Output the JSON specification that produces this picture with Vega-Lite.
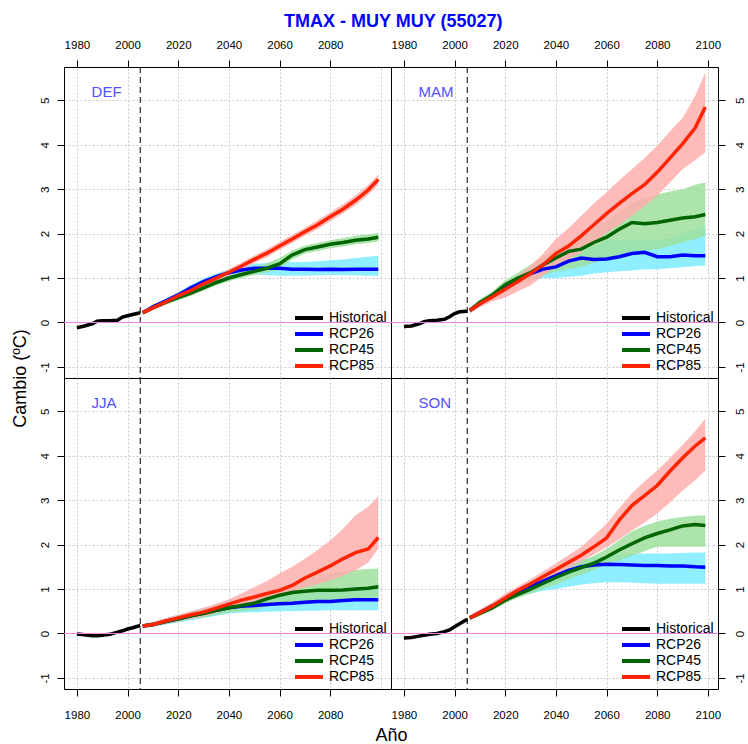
{
  "$schema": "https://vega.github.io/schema/vega-lite/v6.json",
  "padding": {"left": 10, "top": 12, "right": 2, "bottom": 2},
  "background": "white",
  "title": {"text": "TMAX  - MUY MUY (55027)", "color": "#0000FF", "fontSize": 18, "fontWeight": "bold", "font": "Liberation Sans", "anchor": "middle", "frame": "bounds", "dx": 15, "offset": 8},
  "datasets": {"d": [
    {"p":"DEF","s":"Historical","yr":1980,"v":-0.12},{"p":"DEF","s":"Historical","yr":1983,"v":-0.08},{"p":"DEF","s":"Historical","yr":1986,"v":-0.03},{"p":"DEF","s":"Historical","yr":1988,"v":0.03},{"p":"DEF","s":"Historical","yr":1990,"v":0.04},{"p":"DEF","s":"Historical","yr":1993,"v":0.04},{"p":"DEF","s":"Historical","yr":1996,"v":0.05},{"p":"DEF","s":"Historical","yr":1998,"v":0.12},{"p":"DEF","s":"Historical","yr":2000,"v":0.15},{"p":"DEF","s":"Historical","yr":2002,"v":0.18},{"p":"DEF","s":"Historical","yr":2005,"v":0.22},
    {"p":"DEF","s":"RCP26","yr":2006,"v":0.22,"lo":0.18,"hi":0.26},{"p":"DEF","s":"RCP26","yr":2010,"v":0.35,"lo":0.3,"hi":0.4},{"p":"DEF","s":"RCP26","yr":2015,"v":0.48,"lo":0.42,"hi":0.54},{"p":"DEF","s":"RCP26","yr":2020,"v":0.62,"lo":0.55,"hi":0.68},{"p":"DEF","s":"RCP26","yr":2025,"v":0.78,"lo":0.7,"hi":0.85},{"p":"DEF","s":"RCP26","yr":2030,"v":0.92,"lo":0.84,"hi":0.99},{"p":"DEF","s":"RCP26","yr":2035,"v":1.03,"lo":0.95,"hi":1.1},{"p":"DEF","s":"RCP26","yr":2040,"v":1.12,"lo":1.03,"hi":1.2},{"p":"DEF","s":"RCP26","yr":2045,"v":1.18,"lo":1.07,"hi":1.27},{"p":"DEF","s":"RCP26","yr":2050,"v":1.22,"lo":1.08,"hi":1.32},{"p":"DEF","s":"RCP26","yr":2055,"v":1.22,"lo":1.07,"hi":1.34},{"p":"DEF","s":"RCP26","yr":2060,"v":1.22,"lo":1.05,"hi":1.35},{"p":"DEF","s":"RCP26","yr":2065,"v":1.2,"lo":1.05,"hi":1.36},{"p":"DEF","s":"RCP26","yr":2070,"v":1.2,"lo":1.05,"hi":1.36},{"p":"DEF","s":"RCP26","yr":2075,"v":1.19,"lo":1.06,"hi":1.38},{"p":"DEF","s":"RCP26","yr":2080,"v":1.2,"lo":1.07,"hi":1.4},{"p":"DEF","s":"RCP26","yr":2085,"v":1.19,"lo":1.06,"hi":1.42},{"p":"DEF","s":"RCP26","yr":2090,"v":1.2,"lo":1.06,"hi":1.45},{"p":"DEF","s":"RCP26","yr":2095,"v":1.2,"lo":1.05,"hi":1.48},{"p":"DEF","s":"RCP26","yr":2099,"v":1.2,"lo":1.05,"hi":1.5},
    {"p":"DEF","s":"RCP45","yr":2006,"v":0.22,"lo":0.18,"hi":0.26},{"p":"DEF","s":"RCP45","yr":2010,"v":0.33,"lo":0.28,"hi":0.38},{"p":"DEF","s":"RCP45","yr":2015,"v":0.45,"lo":0.4,"hi":0.5},{"p":"DEF","s":"RCP45","yr":2020,"v":0.56,"lo":0.5,"hi":0.62},{"p":"DEF","s":"RCP45","yr":2025,"v":0.66,"lo":0.6,"hi":0.72},{"p":"DEF","s":"RCP45","yr":2030,"v":0.78,"lo":0.72,"hi":0.84},{"p":"DEF","s":"RCP45","yr":2035,"v":0.9,"lo":0.83,"hi":0.96},{"p":"DEF","s":"RCP45","yr":2040,"v":1.0,"lo":0.93,"hi":1.07},{"p":"DEF","s":"RCP45","yr":2045,"v":1.08,"lo":1.0,"hi":1.16},{"p":"DEF","s":"RCP45","yr":2050,"v":1.15,"lo":1.07,"hi":1.24},{"p":"DEF","s":"RCP45","yr":2055,"v":1.22,"lo":1.13,"hi":1.33},{"p":"DEF","s":"RCP45","yr":2060,"v":1.32,"lo":1.22,"hi":1.45},{"p":"DEF","s":"RCP45","yr":2065,"v":1.52,"lo":1.42,"hi":1.62},{"p":"DEF","s":"RCP45","yr":2070,"v":1.64,"lo":1.55,"hi":1.73},{"p":"DEF","s":"RCP45","yr":2075,"v":1.7,"lo":1.61,"hi":1.79},{"p":"DEF","s":"RCP45","yr":2080,"v":1.76,"lo":1.67,"hi":1.85},{"p":"DEF","s":"RCP45","yr":2085,"v":1.8,"lo":1.71,"hi":1.9},{"p":"DEF","s":"RCP45","yr":2090,"v":1.85,"lo":1.76,"hi":1.95},{"p":"DEF","s":"RCP45","yr":2095,"v":1.88,"lo":1.79,"hi":1.98},{"p":"DEF","s":"RCP45","yr":2099,"v":1.92,"lo":1.82,"hi":2.02},
    {"p":"DEF","s":"RCP85","yr":2006,"v":0.22,"lo":0.17,"hi":0.27},{"p":"DEF","s":"RCP85","yr":2010,"v":0.33,"lo":0.28,"hi":0.39},{"p":"DEF","s":"RCP85","yr":2015,"v":0.46,"lo":0.4,"hi":0.52},{"p":"DEF","s":"RCP85","yr":2020,"v":0.6,"lo":0.54,"hi":0.66},{"p":"DEF","s":"RCP85","yr":2025,"v":0.72,"lo":0.65,"hi":0.79},{"p":"DEF","s":"RCP85","yr":2030,"v":0.87,"lo":0.8,"hi":0.94},{"p":"DEF","s":"RCP85","yr":2035,"v":1.0,"lo":0.93,"hi":1.07},{"p":"DEF","s":"RCP85","yr":2040,"v":1.13,"lo":1.05,"hi":1.2},{"p":"DEF","s":"RCP85","yr":2045,"v":1.27,"lo":1.19,"hi":1.35},{"p":"DEF","s":"RCP85","yr":2050,"v":1.42,"lo":1.33,"hi":1.5},{"p":"DEF","s":"RCP85","yr":2055,"v":1.56,"lo":1.47,"hi":1.65},{"p":"DEF","s":"RCP85","yr":2060,"v":1.72,"lo":1.63,"hi":1.81},{"p":"DEF","s":"RCP85","yr":2065,"v":1.88,"lo":1.79,"hi":1.97},{"p":"DEF","s":"RCP85","yr":2070,"v":2.04,"lo":1.95,"hi":2.13},{"p":"DEF","s":"RCP85","yr":2075,"v":2.2,"lo":2.1,"hi":2.3},{"p":"DEF","s":"RCP85","yr":2080,"v":2.38,"lo":2.28,"hi":2.48},{"p":"DEF","s":"RCP85","yr":2085,"v":2.55,"lo":2.45,"hi":2.66},{"p":"DEF","s":"RCP85","yr":2090,"v":2.75,"lo":2.64,"hi":2.86},{"p":"DEF","s":"RCP85","yr":2095,"v":2.98,"lo":2.87,"hi":3.1},{"p":"DEF","s":"RCP85","yr":2099,"v":3.22,"lo":3.1,"hi":3.33},
    {"p":"MAM","s":"Historical","yr":1980,"v":-0.09},{"p":"MAM","s":"Historical","yr":1983,"v":-0.08},{"p":"MAM","s":"Historical","yr":1986,"v":-0.03},{"p":"MAM","s":"Historical","yr":1988,"v":0.02},{"p":"MAM","s":"Historical","yr":1990,"v":0.04},{"p":"MAM","s":"Historical","yr":1993,"v":0.05},{"p":"MAM","s":"Historical","yr":1996,"v":0.07},{"p":"MAM","s":"Historical","yr":1998,"v":0.13},{"p":"MAM","s":"Historical","yr":2000,"v":0.2},{"p":"MAM","s":"Historical","yr":2002,"v":0.24},{"p":"MAM","s":"Historical","yr":2005,"v":0.25},
    {"p":"MAM","s":"RCP26","yr":2006,"v":0.27,"lo":0.22,"hi":0.32},{"p":"MAM","s":"RCP26","yr":2010,"v":0.42,"lo":0.36,"hi":0.48},{"p":"MAM","s":"RCP26","yr":2015,"v":0.6,"lo":0.52,"hi":0.67},{"p":"MAM","s":"RCP26","yr":2020,"v":0.8,"lo":0.7,"hi":0.88},{"p":"MAM","s":"RCP26","yr":2025,"v":0.98,"lo":0.86,"hi":1.06},{"p":"MAM","s":"RCP26","yr":2030,"v":1.1,"lo":0.95,"hi":1.25},{"p":"MAM","s":"RCP26","yr":2035,"v":1.2,"lo":1.0,"hi":1.35},{"p":"MAM","s":"RCP26","yr":2040,"v":1.25,"lo":1.0,"hi":1.45},{"p":"MAM","s":"RCP26","yr":2045,"v":1.38,"lo":1.03,"hi":1.52},{"p":"MAM","s":"RCP26","yr":2050,"v":1.45,"lo":1.05,"hi":1.6},{"p":"MAM","s":"RCP26","yr":2055,"v":1.42,"lo":1.1,"hi":1.72},{"p":"MAM","s":"RCP26","yr":2060,"v":1.43,"lo":1.13,"hi":1.84},{"p":"MAM","s":"RCP26","yr":2065,"v":1.48,"lo":1.15,"hi":1.85},{"p":"MAM","s":"RCP26","yr":2070,"v":1.55,"lo":1.17,"hi":1.85},{"p":"MAM","s":"RCP26","yr":2075,"v":1.58,"lo":1.2,"hi":1.85},{"p":"MAM","s":"RCP26","yr":2080,"v":1.48,"lo":1.2,"hi":1.85},{"p":"MAM","s":"RCP26","yr":2085,"v":1.48,"lo":1.22,"hi":1.9},{"p":"MAM","s":"RCP26","yr":2090,"v":1.52,"lo":1.24,"hi":2.0},{"p":"MAM","s":"RCP26","yr":2095,"v":1.5,"lo":1.27,"hi":2.1},{"p":"MAM","s":"RCP26","yr":2099,"v":1.5,"lo":1.28,"hi":2.18},
    {"p":"MAM","s":"RCP45","yr":2006,"v":0.27,"lo":0.22,"hi":0.32},{"p":"MAM","s":"RCP45","yr":2010,"v":0.45,"lo":0.38,"hi":0.52},{"p":"MAM","s":"RCP45","yr":2015,"v":0.62,"lo":0.54,"hi":0.7},{"p":"MAM","s":"RCP45","yr":2020,"v":0.85,"lo":0.75,"hi":0.95},{"p":"MAM","s":"RCP45","yr":2025,"v":1.0,"lo":0.88,"hi":1.12},{"p":"MAM","s":"RCP45","yr":2030,"v":1.12,"lo":0.95,"hi":1.3},{"p":"MAM","s":"RCP45","yr":2035,"v":1.3,"lo":1.05,"hi":1.48},{"p":"MAM","s":"RCP45","yr":2040,"v":1.45,"lo":1.15,"hi":1.65},{"p":"MAM","s":"RCP45","yr":2045,"v":1.6,"lo":1.2,"hi":1.8},{"p":"MAM","s":"RCP45","yr":2050,"v":1.65,"lo":1.25,"hi":1.95},{"p":"MAM","s":"RCP45","yr":2055,"v":1.8,"lo":1.35,"hi":2.12},{"p":"MAM","s":"RCP45","yr":2060,"v":1.92,"lo":1.45,"hi":2.3},{"p":"MAM","s":"RCP45","yr":2065,"v":2.1,"lo":1.52,"hi":2.5},{"p":"MAM","s":"RCP45","yr":2070,"v":2.25,"lo":1.6,"hi":2.7},{"p":"MAM","s":"RCP45","yr":2075,"v":2.22,"lo":1.62,"hi":2.8},{"p":"MAM","s":"RCP45","yr":2080,"v":2.25,"lo":1.65,"hi":2.88},{"p":"MAM","s":"RCP45","yr":2085,"v":2.3,"lo":1.72,"hi":2.95},{"p":"MAM","s":"RCP45","yr":2090,"v":2.35,"lo":1.8,"hi":3.0},{"p":"MAM","s":"RCP45","yr":2095,"v":2.38,"lo":1.88,"hi":3.1},{"p":"MAM","s":"RCP45","yr":2099,"v":2.43,"lo":1.96,"hi":3.15},
    {"p":"MAM","s":"RCP85","yr":2006,"v":0.27,"lo":0.2,"hi":0.32},{"p":"MAM","s":"RCP85","yr":2010,"v":0.42,"lo":0.34,"hi":0.48},{"p":"MAM","s":"RCP85","yr":2015,"v":0.58,"lo":0.48,"hi":0.65},{"p":"MAM","s":"RCP85","yr":2020,"v":0.75,"lo":0.56,"hi":0.85},{"p":"MAM","s":"RCP85","yr":2025,"v":0.92,"lo":0.7,"hi":1.05},{"p":"MAM","s":"RCP85","yr":2030,"v":1.1,"lo":0.83,"hi":1.28},{"p":"MAM","s":"RCP85","yr":2035,"v":1.3,"lo":1.05,"hi":1.55},{"p":"MAM","s":"RCP85","yr":2040,"v":1.55,"lo":1.28,"hi":1.88},{"p":"MAM","s":"RCP85","yr":2045,"v":1.72,"lo":1.42,"hi":2.12},{"p":"MAM","s":"RCP85","yr":2050,"v":1.95,"lo":1.58,"hi":2.4},{"p":"MAM","s":"RCP85","yr":2055,"v":2.2,"lo":1.8,"hi":2.68},{"p":"MAM","s":"RCP85","yr":2060,"v":2.45,"lo":2.02,"hi":2.93},{"p":"MAM","s":"RCP85","yr":2065,"v":2.68,"lo":2.2,"hi":3.2},{"p":"MAM","s":"RCP85","yr":2070,"v":2.9,"lo":2.4,"hi":3.45},{"p":"MAM","s":"RCP85","yr":2075,"v":3.1,"lo":2.62,"hi":3.7},{"p":"MAM","s":"RCP85","yr":2080,"v":3.38,"lo":2.85,"hi":3.98},{"p":"MAM","s":"RCP85","yr":2085,"v":3.7,"lo":3.15,"hi":4.3},{"p":"MAM","s":"RCP85","yr":2090,"v":4.02,"lo":3.45,"hi":4.6},{"p":"MAM","s":"RCP85","yr":2095,"v":4.38,"lo":3.65,"hi":5.1},{"p":"MAM","s":"RCP85","yr":2099,"v":4.85,"lo":3.83,"hi":5.63},
    {"p":"JJA","s":"Historical","yr":1980,"v":-0.01},{"p":"JJA","s":"Historical","yr":1983,"v":-0.03},{"p":"JJA","s":"Historical","yr":1986,"v":-0.05},{"p":"JJA","s":"Historical","yr":1988,"v":-0.05},{"p":"JJA","s":"Historical","yr":1990,"v":-0.04},{"p":"JJA","s":"Historical","yr":1993,"v":-0.02},{"p":"JJA","s":"Historical","yr":1996,"v":0.03},{"p":"JJA","s":"Historical","yr":1998,"v":0.06},{"p":"JJA","s":"Historical","yr":2000,"v":0.1},{"p":"JJA","s":"Historical","yr":2002,"v":0.13},{"p":"JJA","s":"Historical","yr":2005,"v":0.18},
    {"p":"JJA","s":"RCP26","yr":2006,"v":0.17,"lo":0.13,"hi":0.21},{"p":"JJA","s":"RCP26","yr":2010,"v":0.2,"lo":0.15,"hi":0.26},{"p":"JJA","s":"RCP26","yr":2015,"v":0.27,"lo":0.2,"hi":0.34},{"p":"JJA","s":"RCP26","yr":2020,"v":0.33,"lo":0.25,"hi":0.42},{"p":"JJA","s":"RCP26","yr":2025,"v":0.4,"lo":0.3,"hi":0.5},{"p":"JJA","s":"RCP26","yr":2030,"v":0.46,"lo":0.35,"hi":0.58},{"p":"JJA","s":"RCP26","yr":2035,"v":0.52,"lo":0.4,"hi":0.65},{"p":"JJA","s":"RCP26","yr":2040,"v":0.58,"lo":0.45,"hi":0.72},{"p":"JJA","s":"RCP26","yr":2045,"v":0.61,"lo":0.47,"hi":0.77},{"p":"JJA","s":"RCP26","yr":2050,"v":0.63,"lo":0.48,"hi":0.8},{"p":"JJA","s":"RCP26","yr":2055,"v":0.65,"lo":0.49,"hi":0.83},{"p":"JJA","s":"RCP26","yr":2060,"v":0.67,"lo":0.5,"hi":0.86},{"p":"JJA","s":"RCP26","yr":2065,"v":0.68,"lo":0.5,"hi":0.88},{"p":"JJA","s":"RCP26","yr":2070,"v":0.7,"lo":0.51,"hi":0.9},{"p":"JJA","s":"RCP26","yr":2075,"v":0.72,"lo":0.51,"hi":0.93},{"p":"JJA","s":"RCP26","yr":2080,"v":0.72,"lo":0.52,"hi":0.95},{"p":"JJA","s":"RCP26","yr":2085,"v":0.74,"lo":0.52,"hi":0.97},{"p":"JJA","s":"RCP26","yr":2090,"v":0.76,"lo":0.52,"hi":0.99},{"p":"JJA","s":"RCP26","yr":2095,"v":0.76,"lo":0.52,"hi":1.0},{"p":"JJA","s":"RCP26","yr":2099,"v":0.76,"lo":0.52,"hi":1.02},
    {"p":"JJA","s":"RCP45","yr":2006,"v":0.17,"lo":0.13,"hi":0.21},{"p":"JJA","s":"RCP45","yr":2010,"v":0.2,"lo":0.15,"hi":0.25},{"p":"JJA","s":"RCP45","yr":2015,"v":0.27,"lo":0.21,"hi":0.33},{"p":"JJA","s":"RCP45","yr":2020,"v":0.33,"lo":0.26,"hi":0.4},{"p":"JJA","s":"RCP45","yr":2025,"v":0.4,"lo":0.32,"hi":0.48},{"p":"JJA","s":"RCP45","yr":2030,"v":0.45,"lo":0.36,"hi":0.55},{"p":"JJA","s":"RCP45","yr":2035,"v":0.52,"lo":0.42,"hi":0.62},{"p":"JJA","s":"RCP45","yr":2040,"v":0.58,"lo":0.47,"hi":0.7},{"p":"JJA","s":"RCP45","yr":2045,"v":0.63,"lo":0.5,"hi":0.77},{"p":"JJA","s":"RCP45","yr":2050,"v":0.68,"lo":0.53,"hi":0.85},{"p":"JJA","s":"RCP45","yr":2055,"v":0.78,"lo":0.6,"hi":0.95},{"p":"JJA","s":"RCP45","yr":2060,"v":0.86,"lo":0.66,"hi":1.05},{"p":"JJA","s":"RCP45","yr":2065,"v":0.92,"lo":0.7,"hi":1.15},{"p":"JJA","s":"RCP45","yr":2070,"v":0.95,"lo":0.72,"hi":1.25},{"p":"JJA","s":"RCP45","yr":2075,"v":0.97,"lo":0.74,"hi":1.32},{"p":"JJA","s":"RCP45","yr":2080,"v":0.97,"lo":0.75,"hi":1.36},{"p":"JJA","s":"RCP45","yr":2085,"v":0.98,"lo":0.76,"hi":1.4},{"p":"JJA","s":"RCP45","yr":2090,"v":1.0,"lo":0.78,"hi":1.43},{"p":"JJA","s":"RCP45","yr":2095,"v":1.02,"lo":0.8,"hi":1.45},{"p":"JJA","s":"RCP45","yr":2099,"v":1.05,"lo":0.82,"hi":1.46},
    {"p":"JJA","s":"RCP85","yr":2006,"v":0.17,"lo":0.13,"hi":0.21},{"p":"JJA","s":"RCP85","yr":2010,"v":0.2,"lo":0.15,"hi":0.26},{"p":"JJA","s":"RCP85","yr":2015,"v":0.28,"lo":0.22,"hi":0.34},{"p":"JJA","s":"RCP85","yr":2020,"v":0.35,"lo":0.28,"hi":0.42},{"p":"JJA","s":"RCP85","yr":2025,"v":0.42,"lo":0.33,"hi":0.5},{"p":"JJA","s":"RCP85","yr":2030,"v":0.48,"lo":0.38,"hi":0.58},{"p":"JJA","s":"RCP85","yr":2035,"v":0.57,"lo":0.46,"hi":0.67},{"p":"JJA","s":"RCP85","yr":2040,"v":0.66,"lo":0.54,"hi":0.77},{"p":"JJA","s":"RCP85","yr":2045,"v":0.75,"lo":0.62,"hi":0.9},{"p":"JJA","s":"RCP85","yr":2050,"v":0.82,"lo":0.7,"hi":1.04},{"p":"JJA","s":"RCP85","yr":2055,"v":0.9,"lo":0.78,"hi":1.18},{"p":"JJA","s":"RCP85","yr":2060,"v":0.97,"lo":0.87,"hi":1.35},{"p":"JJA","s":"RCP85","yr":2065,"v":1.08,"lo":0.95,"hi":1.5},{"p":"JJA","s":"RCP85","yr":2070,"v":1.25,"lo":1.04,"hi":1.68},{"p":"JJA","s":"RCP85","yr":2075,"v":1.38,"lo":1.1,"hi":1.88},{"p":"JJA","s":"RCP85","yr":2080,"v":1.52,"lo":1.2,"hi":2.09},{"p":"JJA","s":"RCP85","yr":2085,"v":1.68,"lo":1.3,"hi":2.35},{"p":"JJA","s":"RCP85","yr":2090,"v":1.82,"lo":1.42,"hi":2.66},{"p":"JJA","s":"RCP85","yr":2095,"v":1.9,"lo":1.6,"hi":2.85},{"p":"JJA","s":"RCP85","yr":2099,"v":2.16,"lo":1.91,"hi":3.09},
    {"p":"SON","s":"Historical","yr":1980,"v":-0.1},{"p":"SON","s":"Historical","yr":1983,"v":-0.09},{"p":"SON","s":"Historical","yr":1986,"v":-0.06},{"p":"SON","s":"Historical","yr":1988,"v":-0.04},{"p":"SON","s":"Historical","yr":1990,"v":-0.02},{"p":"SON","s":"Historical","yr":1993,"v":0.0},{"p":"SON","s":"Historical","yr":1996,"v":0.04},{"p":"SON","s":"Historical","yr":1998,"v":0.08},{"p":"SON","s":"Historical","yr":2000,"v":0.15},{"p":"SON","s":"Historical","yr":2002,"v":0.22},{"p":"SON","s":"Historical","yr":2005,"v":0.32},
    {"p":"SON","s":"RCP26","yr":2006,"v":0.35,"lo":0.3,"hi":0.4},{"p":"SON","s":"RCP26","yr":2010,"v":0.47,"lo":0.41,"hi":0.53},{"p":"SON","s":"RCP26","yr":2015,"v":0.62,"lo":0.55,"hi":0.69},{"p":"SON","s":"RCP26","yr":2020,"v":0.78,"lo":0.7,"hi":0.86},{"p":"SON","s":"RCP26","yr":2025,"v":0.92,"lo":0.82,"hi":1.02},{"p":"SON","s":"RCP26","yr":2030,"v":1.06,"lo":0.9,"hi":1.15},{"p":"SON","s":"RCP26","yr":2035,"v":1.18,"lo":0.96,"hi":1.28},{"p":"SON","s":"RCP26","yr":2040,"v":1.3,"lo":1.0,"hi":1.4},{"p":"SON","s":"RCP26","yr":2045,"v":1.42,"lo":1.05,"hi":1.55},{"p":"SON","s":"RCP26","yr":2050,"v":1.5,"lo":1.1,"hi":1.65},{"p":"SON","s":"RCP26","yr":2055,"v":1.54,"lo":1.13,"hi":1.72},{"p":"SON","s":"RCP26","yr":2060,"v":1.56,"lo":1.15,"hi":1.75},{"p":"SON","s":"RCP26","yr":2065,"v":1.55,"lo":1.15,"hi":1.78},{"p":"SON","s":"RCP26","yr":2070,"v":1.54,"lo":1.14,"hi":1.79},{"p":"SON","s":"RCP26","yr":2075,"v":1.53,"lo":1.13,"hi":1.8},{"p":"SON","s":"RCP26","yr":2080,"v":1.53,"lo":1.12,"hi":1.8},{"p":"SON","s":"RCP26","yr":2085,"v":1.52,"lo":1.12,"hi":1.8},{"p":"SON","s":"RCP26","yr":2090,"v":1.52,"lo":1.12,"hi":1.81},{"p":"SON","s":"RCP26","yr":2095,"v":1.5,"lo":1.12,"hi":1.82},{"p":"SON","s":"RCP26","yr":2099,"v":1.49,"lo":1.12,"hi":1.82},
    {"p":"SON","s":"RCP45","yr":2006,"v":0.35,"lo":0.3,"hi":0.4},{"p":"SON","s":"RCP45","yr":2010,"v":0.45,"lo":0.4,"hi":0.5},{"p":"SON","s":"RCP45","yr":2015,"v":0.58,"lo":0.52,"hi":0.64},{"p":"SON","s":"RCP45","yr":2020,"v":0.75,"lo":0.68,"hi":0.82},{"p":"SON","s":"RCP45","yr":2025,"v":0.88,"lo":0.8,"hi":0.96},{"p":"SON","s":"RCP45","yr":2030,"v":1.0,"lo":0.9,"hi":1.1},{"p":"SON","s":"RCP45","yr":2035,"v":1.13,"lo":1.0,"hi":1.25},{"p":"SON","s":"RCP45","yr":2040,"v":1.26,"lo":1.1,"hi":1.38},{"p":"SON","s":"RCP45","yr":2045,"v":1.38,"lo":1.22,"hi":1.5},{"p":"SON","s":"RCP45","yr":2050,"v":1.48,"lo":1.32,"hi":1.62},{"p":"SON","s":"RCP45","yr":2055,"v":1.58,"lo":1.43,"hi":1.75},{"p":"SON","s":"RCP45","yr":2060,"v":1.72,"lo":1.55,"hi":1.9},{"p":"SON","s":"RCP45","yr":2065,"v":1.88,"lo":1.65,"hi":2.1},{"p":"SON","s":"RCP45","yr":2070,"v":2.02,"lo":1.75,"hi":2.3},{"p":"SON","s":"RCP45","yr":2075,"v":2.15,"lo":1.85,"hi":2.42},{"p":"SON","s":"RCP45","yr":2080,"v":2.25,"lo":1.95,"hi":2.52},{"p":"SON","s":"RCP45","yr":2085,"v":2.33,"lo":1.95,"hi":2.58},{"p":"SON","s":"RCP45","yr":2090,"v":2.42,"lo":1.95,"hi":2.62},{"p":"SON","s":"RCP45","yr":2095,"v":2.45,"lo":1.95,"hi":2.65},{"p":"SON","s":"RCP45","yr":2099,"v":2.43,"lo":1.95,"hi":2.66},
    {"p":"SON","s":"RCP85","yr":2006,"v":0.35,"lo":0.3,"hi":0.4},{"p":"SON","s":"RCP85","yr":2010,"v":0.47,"lo":0.4,"hi":0.54},{"p":"SON","s":"RCP85","yr":2015,"v":0.62,"lo":0.55,"hi":0.7},{"p":"SON","s":"RCP85","yr":2020,"v":0.8,"lo":0.72,"hi":0.9},{"p":"SON","s":"RCP85","yr":2025,"v":0.97,"lo":0.87,"hi":1.06},{"p":"SON","s":"RCP85","yr":2030,"v":1.12,"lo":1.0,"hi":1.22},{"p":"SON","s":"RCP85","yr":2035,"v":1.28,"lo":1.16,"hi":1.4},{"p":"SON","s":"RCP85","yr":2040,"v":1.44,"lo":1.32,"hi":1.58},{"p":"SON","s":"RCP85","yr":2045,"v":1.6,"lo":1.47,"hi":1.76},{"p":"SON","s":"RCP85","yr":2050,"v":1.76,"lo":1.62,"hi":1.95},{"p":"SON","s":"RCP85","yr":2055,"v":1.95,"lo":1.78,"hi":2.2},{"p":"SON","s":"RCP85","yr":2060,"v":2.15,"lo":1.94,"hi":2.47},{"p":"SON","s":"RCP85","yr":2065,"v":2.55,"lo":2.12,"hi":2.82},{"p":"SON","s":"RCP85","yr":2070,"v":2.88,"lo":2.32,"hi":3.15},{"p":"SON","s":"RCP85","yr":2075,"v":3.1,"lo":2.5,"hi":3.42},{"p":"SON","s":"RCP85","yr":2080,"v":3.33,"lo":2.7,"hi":3.67},{"p":"SON","s":"RCP85","yr":2085,"v":3.65,"lo":2.95,"hi":3.95},{"p":"SON","s":"RCP85","yr":2090,"v":3.95,"lo":3.22,"hi":4.24},{"p":"SON","s":"RCP85","yr":2095,"v":4.22,"lo":3.45,"hi":4.55},{"p":"SON","s":"RCP85","yr":2099,"v":4.4,"lo":3.67,"hi":4.84}
  ]},
  "columns": 2,
  "spacing": 0,
  "bounds": "flush",
  "resolve": {"scale": {"color": "independent", "fill": "independent"}, "legend": {"color": "independent", "fill": "independent"}},
  "concat": [
      {"width": 327, "height": 311,
       "layer": [
        {"data": {"name": "d"}, "transform": [{"filter": "datum.p === 'DEF' && isValid(datum.lo)"}],
         "mark": {"type": "area", "opacity": 0.85},
         "encoding": {
          "x": {"field": "yr", "type": "quantitative", "scale": {"domain": [1974.9, 2104], "nice": false, "zero": false},
                "axis": {"orient": "top", "title": null, "values": [1980,1990,2000,2010,2020,2030,2040,2050,2060,2070,2080,2090,2100], "labelExpr": "datum.value % 20 === 0 && datum.value < 2090 ? '' + datum.value : ''", "gridOpacity": {"condition": {"test": "datum.value % 20 === 0", "value": 1}, "value": 0}, "tickOpacity": {"condition": {"test": "datum.value > 2095", "value": 0}, "value": 1}, "labelPadding": 10}},
          "y": {"field": "lo", "type": "quantitative", "scale": {"domain": [-1.25, 5.75], "nice": false, "zero": false},
                "axis": {"orient": "left", "title": "Cambio (ºC)", "titleY": 311, "titlePadding": 10, "values": [-1,-0.5,0,0.5,1,1.5,2,2.5,3,3.5,4,4.5,5,5.5], "labelExpr": "datum.value % 1 === 0 ? '' + datum.value : ''", "labelAngle": 270, "labelAlign": "center", "labelBaseline": "bottom", "labelPadding": 7, "gridOpacity": {"condition": {"test": "datum.value % 1 === 0", "value": 1}, "value": 0}, "gridColor": {"condition": {"test": "datum.value === 0", "value": "#EE82EE"}, "value": "#c8c8c8"}, "gridDash": {"condition": {"test": "datum.value === 0", "value": []}, "value": [2, 2]}}},
          "y2": {"field": "hi"},
          "fill": {"field": "s", "type": "nominal", "scale": {"domain": ["Historical","RCP26","RCP45","RCP85"], "range": ["#cccccc","#7BEBFF","#9DDF9D","#FFAEAE"]}, "legend": {"orient": "bottom-right", "title": null}}
         }},
        {"data": {"values": [{"t": 2005}]}, "mark": {"type": "rule", "color": "black", "strokeWidth": 1, "strokeDash": [6, 4]}, "encoding": {"x": {"field": "t", "type": "quantitative", "scale": {"domain": [1974.9, 2104], "nice": false, "zero": false}}}},
        {"data": {"name": "d"}, "transform": [{"filter": "datum.p === 'DEF'"}],
         "mark": {"type": "line", "strokeWidth": 3.5},
         "encoding": {
          "x": {"field": "yr", "type": "quantitative", "scale": {"domain": [1974.9, 2104], "nice": false, "zero": false}},
          "y": {"field": "v", "type": "quantitative", "scale": {"domain": [-1.25, 5.75], "nice": false, "zero": false}},
          "color": {"field": "s", "type": "nominal", "scale": {"domain": ["Historical","RCP26","RCP45","RCP85"], "range": ["#000000","#0000FF","#006400","#FF2400"]}, "legend": {"orient": "bottom-right", "title": null}}
         }},
        {"data": {"values": [{}]}, "mark": {"type": "text", "align": "left", "baseline": "middle", "fontSize": 15, "color": "#5050FF", "font": "Liberation Sans"},
         "encoding": {"x": {"datum": 1985.8, "type": "quantitative", "scale": {"domain": [1974.9, 2104], "nice": false, "zero": false}}, "y": {"datum": 5.19, "type": "quantitative", "scale": {"domain": [-1.25, 5.75], "nice": false, "zero": false}}, "text": {"value": "DEF"}}},
        {"data": {"values": [{"z": 0}]}, "mark": {"type": "rule", "color": "#EE82EE", "strokeWidth": 1, "zindex": 2}, "encoding": {"y": {"field": "z", "type": "quantitative", "scale": {"domain": [-1.25, 5.75], "nice": false, "zero": false}}}}
       ]},
      {"width": 327, "height": 311,
       "layer": [
        {"data": {"name": "d"}, "transform": [{"filter": "datum.p === 'MAM' && isValid(datum.lo)"}],
         "mark": {"type": "area", "opacity": 0.85},
         "encoding": {
          "x": {"field": "yr", "type": "quantitative", "scale": {"domain": [1974.9, 2104], "nice": false, "zero": false},
                "axis": {"orient": "top", "title": null, "values": [1980,1990,2000,2010,2020,2030,2040,2050,2060,2070,2080,2090,2100], "labelExpr": "datum.value % 20 === 0 ? '' + datum.value : ''", "gridOpacity": {"condition": {"test": "datum.value % 20 === 0", "value": 1}, "value": 0}, "labelPadding": 10}},
          "y": {"field": "lo", "type": "quantitative", "scale": {"domain": [-1.25, 5.75], "nice": false, "zero": false},
                "axis": {"orient": "right", "title": null, "values": [-1,-0.5,0,0.5,1,1.5,2,2.5,3,3.5,4,4.5,5,5.5], "labelExpr": "datum.value % 1 === 0 ? '' + datum.value : ''", "labelAngle": 270, "labelAlign": "center", "labelBaseline": "top", "labelPadding": 9, "gridOpacity": {"condition": {"test": "datum.value % 1 === 0", "value": 1}, "value": 0}, "gridColor": {"condition": {"test": "datum.value === 0", "value": "#EE82EE"}, "value": "#c8c8c8"}, "gridDash": {"condition": {"test": "datum.value === 0", "value": []}, "value": [2, 2]}}},
          "y2": {"field": "hi"},
          "fill": {"field": "s", "type": "nominal", "scale": {"domain": ["Historical","RCP26","RCP45","RCP85"], "range": ["#cccccc","#7BEBFF","#9DDF9D","#FFAEAE"]}, "legend": {"orient": "bottom-right", "title": null}}
         }},
        {"data": {"values": [{"t": 2005}]}, "mark": {"type": "rule", "color": "black", "strokeWidth": 1, "strokeDash": [6, 4]}, "encoding": {"x": {"field": "t", "type": "quantitative", "scale": {"domain": [1974.9, 2104], "nice": false, "zero": false}}}},
        {"data": {"name": "d"}, "transform": [{"filter": "datum.p === 'MAM'"}],
         "mark": {"type": "line", "strokeWidth": 3.5},
         "encoding": {
          "x": {"field": "yr", "type": "quantitative", "scale": {"domain": [1974.9, 2104], "nice": false, "zero": false}},
          "y": {"field": "v", "type": "quantitative", "scale": {"domain": [-1.25, 5.75], "nice": false, "zero": false}},
          "color": {"field": "s", "type": "nominal", "scale": {"domain": ["Historical","RCP26","RCP45","RCP85"], "range": ["#000000","#0000FF","#006400","#FF2400"]}, "legend": {"orient": "bottom-right", "title": null}}
         }},
        {"data": {"values": [{}]}, "mark": {"type": "text", "align": "left", "baseline": "middle", "fontSize": 15, "color": "#5050FF", "font": "Liberation Sans"},
         "encoding": {"x": {"datum": 1985.8, "type": "quantitative", "scale": {"domain": [1974.9, 2104], "nice": false, "zero": false}}, "y": {"datum": 5.19, "type": "quantitative", "scale": {"domain": [-1.25, 5.75], "nice": false, "zero": false}}, "text": {"value": "MAM"}}},
        {"data": {"values": [{"z": 0}]}, "mark": {"type": "rule", "color": "#EE82EE", "strokeWidth": 1, "zindex": 2}, "encoding": {"y": {"field": "z", "type": "quantitative", "scale": {"domain": [-1.25, 5.75], "nice": false, "zero": false}}}}
       ]},
      {"width": 327, "height": 311,
       "layer": [
        {"data": {"name": "d"}, "transform": [{"filter": "datum.p === 'JJA' && isValid(datum.lo)"}],
         "mark": {"type": "area", "opacity": 0.85},
         "encoding": {
          "x": {"field": "yr", "type": "quantitative", "scale": {"domain": [1974.9, 2104], "nice": false, "zero": false},
                "axis": {"orient": "bottom", "title": "Año", "titleX": 327, "titlePadding": 6, "values": [1980,1990,2000,2010,2020,2030,2040,2050,2060,2070,2080,2090,2100], "labelExpr": "datum.value % 20 === 0 && datum.value < 2090 ? '' + datum.value : ''", "gridOpacity": {"condition": {"test": "datum.value % 20 === 0", "value": 1}, "value": 0}, "tickOpacity": {"condition": {"test": "datum.value > 2095", "value": 0}, "value": 1}, "labelPadding": 13}},
          "y": {"field": "lo", "type": "quantitative", "scale": {"domain": [-1.25, 5.75], "nice": false, "zero": false},
                "axis": {"orient": "left", "title": null, "values": [-1,-0.5,0,0.5,1,1.5,2,2.5,3,3.5,4,4.5,5,5.5], "labelExpr": "datum.value % 1 === 0 ? '' + datum.value : ''", "labelAngle": 270, "labelAlign": "center", "labelBaseline": "bottom", "labelPadding": 7, "gridOpacity": {"condition": {"test": "datum.value % 1 === 0", "value": 1}, "value": 0}, "gridColor": {"condition": {"test": "datum.value === 0", "value": "#EE82EE"}, "value": "#c8c8c8"}, "gridDash": {"condition": {"test": "datum.value === 0", "value": []}, "value": [2, 2]}}},
          "y2": {"field": "hi"},
          "fill": {"field": "s", "type": "nominal", "scale": {"domain": ["Historical","RCP26","RCP45","RCP85"], "range": ["#cccccc","#7BEBFF","#9DDF9D","#FFAEAE"]}, "legend": {"orient": "bottom-right", "title": null}}
         }},
        {"data": {"values": [{"t": 2005}]}, "mark": {"type": "rule", "color": "black", "strokeWidth": 1, "strokeDash": [6, 4]}, "encoding": {"x": {"field": "t", "type": "quantitative", "scale": {"domain": [1974.9, 2104], "nice": false, "zero": false}}}},
        {"data": {"name": "d"}, "transform": [{"filter": "datum.p === 'JJA'"}],
         "mark": {"type": "line", "strokeWidth": 3.5},
         "encoding": {
          "x": {"field": "yr", "type": "quantitative", "scale": {"domain": [1974.9, 2104], "nice": false, "zero": false}},
          "y": {"field": "v", "type": "quantitative", "scale": {"domain": [-1.25, 5.75], "nice": false, "zero": false}},
          "color": {"field": "s", "type": "nominal", "scale": {"domain": ["Historical","RCP26","RCP45","RCP85"], "range": ["#000000","#0000FF","#006400","#FF2400"]}, "legend": {"orient": "bottom-right", "title": null}}
         }},
        {"data": {"values": [{}]}, "mark": {"type": "text", "align": "left", "baseline": "middle", "fontSize": 15, "color": "#5050FF", "font": "Liberation Sans"},
         "encoding": {"x": {"datum": 1985.8, "type": "quantitative", "scale": {"domain": [1974.9, 2104], "nice": false, "zero": false}}, "y": {"datum": 5.19, "type": "quantitative", "scale": {"domain": [-1.25, 5.75], "nice": false, "zero": false}}, "text": {"value": "JJA"}}},
        {"data": {"values": [{"z": 0}]}, "mark": {"type": "rule", "color": "#EE82EE", "strokeWidth": 1, "zindex": 2}, "encoding": {"y": {"field": "z", "type": "quantitative", "scale": {"domain": [-1.25, 5.75], "nice": false, "zero": false}}}}
       ]},
      {"width": 327, "height": 311,
       "layer": [
        {"data": {"name": "d"}, "transform": [{"filter": "datum.p === 'SON' && isValid(datum.lo)"}],
         "mark": {"type": "area", "opacity": 0.85},
         "encoding": {
          "x": {"field": "yr", "type": "quantitative", "scale": {"domain": [1974.9, 2104], "nice": false, "zero": false},
                "axis": {"orient": "bottom", "title": null, "values": [1980,1990,2000,2010,2020,2030,2040,2050,2060,2070,2080,2090,2100], "labelExpr": "datum.value % 20 === 0 ? '' + datum.value : ''", "gridOpacity": {"condition": {"test": "datum.value % 20 === 0", "value": 1}, "value": 0}, "labelPadding": 13}},
          "y": {"field": "lo", "type": "quantitative", "scale": {"domain": [-1.25, 5.75], "nice": false, "zero": false},
                "axis": {"orient": "right", "title": null, "values": [-1,-0.5,0,0.5,1,1.5,2,2.5,3,3.5,4,4.5,5,5.5], "labelExpr": "datum.value % 1 === 0 ? '' + datum.value : ''", "labelAngle": 270, "labelAlign": "center", "labelBaseline": "top", "labelPadding": 9, "gridOpacity": {"condition": {"test": "datum.value % 1 === 0", "value": 1}, "value": 0}, "gridColor": {"condition": {"test": "datum.value === 0", "value": "#EE82EE"}, "value": "#c8c8c8"}, "gridDash": {"condition": {"test": "datum.value === 0", "value": []}, "value": [2, 2]}}},
          "y2": {"field": "hi"},
          "fill": {"field": "s", "type": "nominal", "scale": {"domain": ["Historical","RCP26","RCP45","RCP85"], "range": ["#cccccc","#7BEBFF","#9DDF9D","#FFAEAE"]}, "legend": {"orient": "bottom-right", "title": null}}
         }},
        {"data": {"values": [{"t": 2005}]}, "mark": {"type": "rule", "color": "black", "strokeWidth": 1, "strokeDash": [6, 4]}, "encoding": {"x": {"field": "t", "type": "quantitative", "scale": {"domain": [1974.9, 2104], "nice": false, "zero": false}}}},
        {"data": {"name": "d"}, "transform": [{"filter": "datum.p === 'SON'"}],
         "mark": {"type": "line", "strokeWidth": 3.5},
         "encoding": {
          "x": {"field": "yr", "type": "quantitative", "scale": {"domain": [1974.9, 2104], "nice": false, "zero": false}},
          "y": {"field": "v", "type": "quantitative", "scale": {"domain": [-1.25, 5.75], "nice": false, "zero": false}},
          "color": {"field": "s", "type": "nominal", "scale": {"domain": ["Historical","RCP26","RCP45","RCP85"], "range": ["#000000","#0000FF","#006400","#FF2400"]}, "legend": {"orient": "bottom-right", "title": null}}
         }},
        {"data": {"values": [{}]}, "mark": {"type": "text", "align": "left", "baseline": "middle", "fontSize": 15, "color": "#5050FF", "font": "Liberation Sans"},
         "encoding": {"x": {"datum": 1985.8, "type": "quantitative", "scale": {"domain": [1974.9, 2104], "nice": false, "zero": false}}, "y": {"datum": 5.19, "type": "quantitative", "scale": {"domain": [-1.25, 5.75], "nice": false, "zero": false}}, "text": {"value": "SON"}}},
        {"data": {"values": [{"z": 0}]}, "mark": {"type": "rule", "color": "#EE82EE", "strokeWidth": 1, "zindex": 2}, "encoding": {"y": {"field": "z", "type": "quantitative", "scale": {"domain": [-1.25, 5.75], "nice": false, "zero": false}}}}
       ]}
  ],
  "config": {
    "font": "Liberation Sans",
    "view": {"stroke": "black", "strokeWidth": 1},
    "axis": {"domain": false, "ticks": true, "tickColor": "black", "tickSize": 7, "tickWidth": 1, "labelFont": "Liberation Sans", "labelFontSize": 11.5, "labelColor": "black", "labelOverlap": false, "labelBound": false, "labelFlush": false, "grid": true, "gridColor": "#c8c8c8", "gridDash": [2, 2], "gridWidth": 1, "titleFont": "Liberation Sans", "titleFontSize": 18, "titleFontWeight": "normal", "titleColor": "black"},
    "legend": {"offset": 4, "padding": 0, "labelFont": "Liberation Sans", "labelFontSize": 14, "labelColor": "black", "symbolType": "M-2.33,0H2.33", "symbolSize": 144, "symbolStrokeWidth": 4, "symbolOpacity": 1, "rowPadding": 0, "labelOffset": 12}
  }
}
